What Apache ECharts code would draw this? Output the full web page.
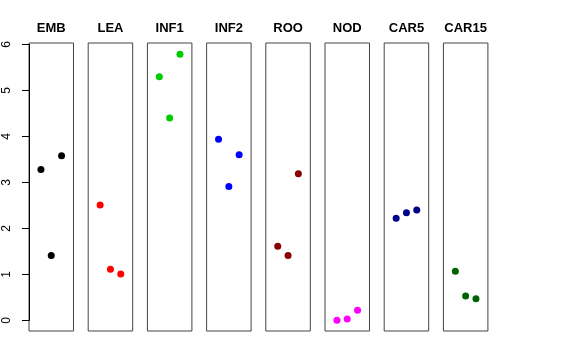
<!DOCTYPE html>
<html>
<head>
<meta charset="utf-8">
<script src="https://cdn.jsdelivr.net/npm/echarts@6/dist/echarts.min.js"></script>
<style>html,body{margin:0;padding:0;background:#fff;}#c{width:576px;height:360px;}</style>
</head>
<body>
<div id="c"></div>
<script>
var categories = ['EMB', 'LEA', 'INF1', 'INF2', 'ROO', 'NOD', 'CAR5', 'CAR15'];
var xPositions = [1, 2, 3];
var valEMB = [3.28, 1.41, 3.58];
var valLEA = [2.51, 1.11, 1.01];
var valINF1 = [5.30, 4.40, 5.79];
var valINF2 = [3.94, 2.91, 3.60];
var valROO = [1.61, 1.41, 3.19];
var valNOD = [0.00, 0.03, 0.22];
var valCAR5 = [2.22, 2.34, 2.40];
var valCAR15 = [1.07, 0.53, 0.47];
var yTicks = [0, 1, 2, 3, 4, 5, 6];

(function () {
var values = [valEMB, valLEA, valINF1, valINF2, valROO, valNOD, valCAR5, valCAR15];
var colors = ['#000000', '#FF0000', '#00CD00', '#0000FF', '#8B0000', '#FF00FF', '#00008B', '#006400'];

var left0 = 29, step = 59.2, w = 44.5, gTop = 43, h = 288;
var grids = [], xAxes = [], yAxes = [], series = [], titles = [];
var ymin = -0.232, ymax = 6.032;
categories.forEach(function (cat, i) {
  var l = left0 + step * i;
  grids.push({left: l, top: gTop, width: w, height: h, show: true, borderColor: '#444', borderWidth: 1, backgroundColor: 'transparent'});
  xAxes.push({type: 'value', gridIndex: i, min: -0.16, max: 4.16, show: false});
  yAxes.push({type: 'value', gridIndex: i, min: ymin, max: ymax, show: false});
  series.push({
    type: 'scatter', xAxisIndex: i, yAxisIndex: i, symbolSize: 7,
    itemStyle: {color: colors[i], opacity: 1},
    data: xPositions.map(function (x, j) { return [x, values[i][j]]; })
  });
  titles.push({text: cat, left: l + w / 2, top: 22, textAlign: 'center', padding: 0,
    textStyle: {fontFamily: 'Liberation Sans', fontWeight: 'bold', fontSize: 13, color: '#000'}});
});
var axisTop = gTop + (ymax - 6) / (ymax - ymin) * h;
var axisH = 6 / (ymax - ymin) * h;
grids.push({left: left0, top: axisTop, width: w, height: axisH, show: false});
xAxes.push({type: 'value', gridIndex: 8, min: 0, max: 1, show: false});
yAxes.push({type: 'value', gridIndex: 8, min: yTicks[0], max: yTicks[yTicks.length - 1], interval: 1,
  axisLine: {show: true, lineStyle: {color: '#000', width: 1}},
  axisTick: {show: true, length: 7, lineStyle: {color: '#000'}},
  axisLabel: {show: true, rotate: 90, margin: 16, fontFamily: 'Liberation Sans', fontSize: 12, color: '#000'},
  splitLine: {show: false}
});

var chart = echarts.init(document.getElementById('c'), null, {renderer: 'canvas'});
chart.setOption({
  animation: false,
  backgroundColor: '#fff',
  title: titles,
  grid: grids,
  xAxis: xAxes,
  yAxis: yAxes,
  series: series
});
})();
</script>
</body>
</html>
